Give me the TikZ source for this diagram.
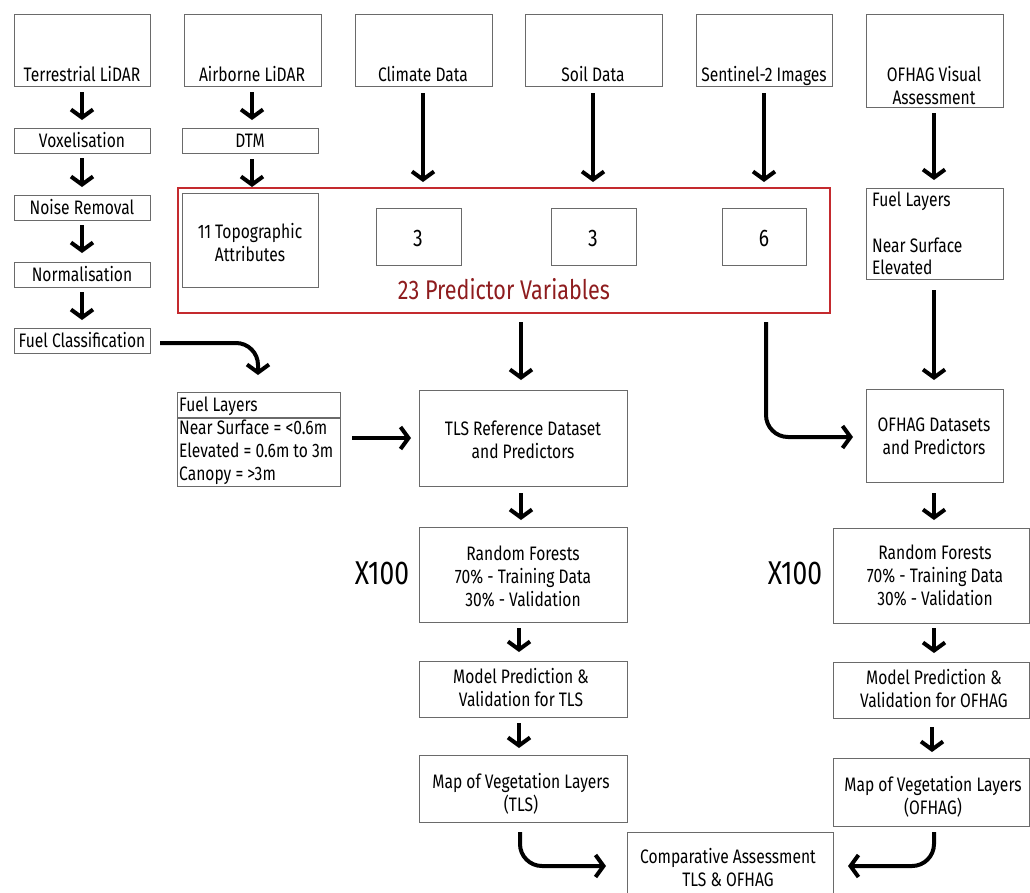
\documentclass[tikz,border=0pt]{standalone}
\usepackage{fontspec}
\setmainfont[FakeStretch=0.8]{Fira Sans}
\usetikzlibrary{arrows.meta}
\definecolor{boxgray}{HTML}{6A6A6A}
\definecolor{redbox}{HTML}{C42A2E}
\definecolor{darkred}{HTML}{8E1C1E}
\tikzset{
  box/.style={draw=boxgray, line width=0.9pt, inner sep=0pt, fill=white},
  txt/.style={inner sep=0pt, font=\fontsize{19.5}{23}\selectfont, align=center},
  ltxt/.style={inner sep=0pt, font=\fontsize{19.5}{23}\selectfont, anchor=base west},
  num/.style={inner sep=0pt, font=\fontsize{24}{28}\selectfont, anchor=base},
  arr/.style={line width=4pt, -{Straight Barb[length=8pt,width=22pt]}},
}
\newcommand\mkbox[5]{\node[box, anchor=north west, minimum width=#4pt, minimum height=#5pt] (#1) at (#2,#3) {};}
\begin{document}
\begin{tikzpicture}[x=1pt,y=-1pt]
\useasboundingbox (0,0) rectangle (1030,892);
% top boxes
\mkbox{tl}{14}{14}{136}{72}
\mkbox{al}{184}{14}{137}{72}
\mkbox{cd}{355}{14}{137}{72}
\mkbox{sd}{525}{14}{137}{72}
\mkbox{s2}{696}{14}{136}{72}
\mkbox{ov}{866}{14}{137}{93}
\node[txt, anchor=base] (tlt) at (82,81) {Terrestrial LiDAR};
\node[txt, anchor=base] (alt) at (252,81) {Airborne LiDAR};
\node[txt, anchor=base] (cdt) at (423,81) {Climate Data};
\node[txt, anchor=base] (sdt) at (593,81) {Soil Data};
\node[txt, anchor=base] (s2t) at (764,81) {Sentinel-2 Images};
\node[txt, anchor=base] (ovt1) at (934,81) {OFHAG Visual};
\node[txt, anchor=base] (ovt2) at (934,104) {Assessment};
% left column
\mkbox{vox}{14}{128}{136}{25}
\mkbox{noise}{14}{195}{136}{25}
\mkbox{norm}{14}{262}{136}{25}
\mkbox{fuelc}{14}{328}{136}{25}
\mkbox{dtm}{182}{128}{136}{25}
\node[txt, anchor=base] (voxt) at (82,147) {Voxelisation};
\node[txt, anchor=base] (noiset) at (82,214) {Noise Removal};
\node[txt, anchor=base] (normt) at (82,281) {Normalisation};
\node[txt, anchor=base] (fuelct) at (82,347) {Fuel Classification};
\node[txt, anchor=base] (dtmt) at (250,147) {DTM};
% red predictor box
\draw[redbox, line width=1.5pt] (178,188) rectangle (830,313);
\mkbox{topo}{182}{193}{136}{94}
\mkbox{b3a}{376}{208}{85}{57}
\mkbox{b3b}{551}{208}{85}{57}
\mkbox{b6}{722}{208}{84}{57}
\node[txt] (topot) at (250,243) {11 Topographic\\Attributes};
\node[num] (b3at) at (418,246) {3};
\node[num] (b3bt) at (593,246) {3};
\node[num] (b6t) at (764,246) {6};
\node[inner sep=0pt, anchor=base, text=darkred, font=\fontsize{27}{30}\selectfont] (pv) at (504,299) {23 Predictor Variables};
% OFHAG fuel layers
\mkbox{ofl}{866}{188}{137}{91}
\node[ltxt] (ofl1) at (872,206) {Fuel Layers};
\node[ltxt] (ofl2) at (872,252) {Near Surface};
\node[ltxt] (ofl3) at (872,274) {Elevated};
% Fuel layers table
\mkbox{fl}{177}{392}{163}{94}
\draw[boxgray, line width=1.2pt] (fl.west |- 0,418) -- (fl.east |- 0,418);
\node[ltxt] (fl1) at (179,411) {Fuel Layers};
\node[ltxt] (fl2) at (179,434) {Near Surface = <0.6m};
\node[ltxt] (fl3) at (179,457) {Elevated = 0.6m to 3m};
\node[ltxt] (fl4) at (179,480) {Canopy = >3m};
% TLS column
\mkbox{tls}{419}{390}{208}{96}
\node[txt] (tlst) at (523,440) {TLS Reference Dataset\\and Predictors};
\mkbox{rfl}{419}{527}{208}{95}
\node[txt] (rflt) at (523,576) {Random Forests\\70\% - Training Data\\30\% - Validation};
\node[inner sep=0pt, font=\fontsize{33}{36}\selectfont] (xl) at (382,573) {X100};
\mkbox{mtl}{419}{661}{208}{56}
\node[txt] (mtlt) at (521,687) {Model Prediction \&\\Validation for TLS};
\mkbox{mapl}{419}{755}{208}{67}
\node[txt] (maplt) at (521,794) {Map of Vegetation Layers\\(TLS)};
% OFHAG column
\mkbox{ofd}{866}{389}{137}{93}
\node[txt] (ofdt) at (934,436) {OFHAG Datasets\\and Predictors};
\mkbox{rfr}{833}{528}{196}{95}
\node[txt] (rfrt) at (935,575) {Random Forests\\70\% - Training Data\\30\% - Validation};
\node[inner sep=0pt, font=\fontsize{33}{36}\selectfont] (xr) at (795,573) {X100};
\mkbox{mtr}{833}{662}{196}{56}
\node[txt] (mtrt) at (934,688) {Model Prediction \&\\Validation for OFHAG};
\mkbox{mapr}{833}{758}{196}{68}
\node[txt] (maprt) at (933,797) {Map of Vegetation Layers\\(OFHAG)};
% comparative
\mkbox{comp}{627}{832}{206}{75}
\node[txt] (compt) at (728,867) {Comparative Assessment\\TLS \& OFHAG};
% arrows
\draw[arr] (82,92) -- (82,120);
\draw[arr] (82,158) -- (82,187);
\draw[arr] (82,225) -- (82,253);
\draw[arr] (82,292) -- (82,320);
\draw[arr] (252,92) -- (252,120);
\draw[arr] (252,159) -- (252,187);
\draw[arr] (423,93) -- (423,182);
\draw[arr] (593,93) -- (593,182);
\draw[arr] (764,93) -- (764,182);
\draw[arr] (934,113) -- (934,180);
\draw[arr] (934,290) -- (934,380);
\draw[arr, rounded corners=22pt] (160,343) -| (258,375);
\draw[arr] (352,438) -- (411,438);
\draw[arr] (521,322) -- (521,380);
\draw[arr] (521,493) -- (521,520);
\draw[arr] (519,628) -- (519,652);
\draw[arr] (519,723) -- (519,748);
\draw[arr, rounded corners=22pt] (766,322) |- (853,437);
\draw[arr] (934,493) -- (934,520);
\draw[arr] (934,628) -- (934,653);
\draw[arr] (932,727) -- (932,752);
\draw[arr, rounded corners=22pt] (520,832) |- (606,866);
\draw[arr, rounded corners=22pt] (934,832) |- (848,866);
\end{tikzpicture}
\end{document}
